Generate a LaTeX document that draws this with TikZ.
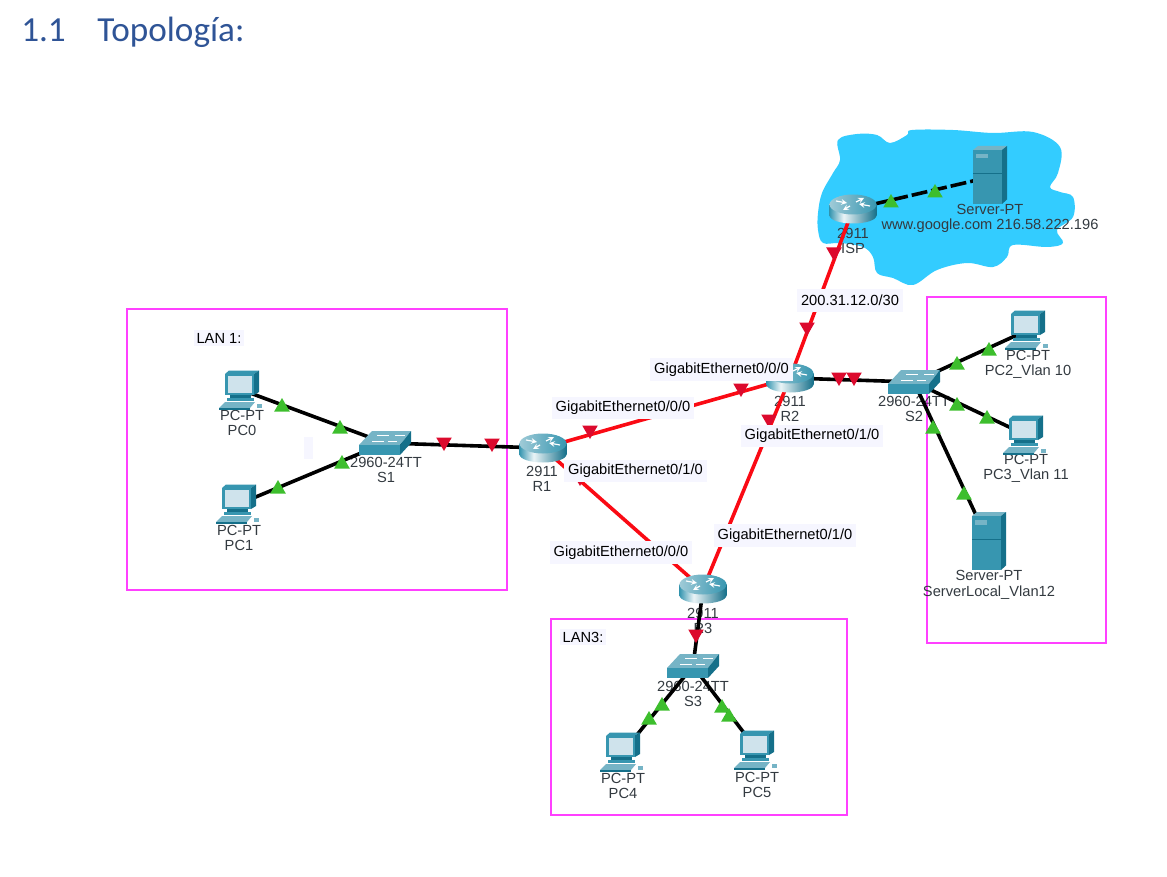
\documentclass[tikz,border=0pt]{standalone}
\usepackage{fontspec}
\setmainfont{Liberation Sans}
\newfontfamily\titlefont{Carlito}
\usetikzlibrary{shapes.geometric}
\definecolor{headblue}{HTML}{2F5496}
\definecolor{cloudblue}{HTML}{33CCFF}
\definecolor{lanpink}{HTML}{FF40FF}
\definecolor{linkred}{HTML}{FA0A14}
\definecolor{markred}{HTML}{DC0A2D}
\definecolor{markgreen}{HTML}{3DBE2D}
\definecolor{labpale}{HTML}{F6F6FF}
\definecolor{devmid}{HTML}{3796B0}
\definecolor{devdark}{HTML}{15708A}
\definecolor{devtop}{HTML}{76B4C6}
\definecolor{devscreen}{HTML}{CFE3EC}
\definecolor{devtext}{HTML}{333A40}
\pgfdeclarehorizontalshading{rtbody}{100bp}{color(0bp)=(devmid); color(25bp)=(devmid); color(40bp)=(white!90!devmid); color(75bp)=(devdark); color(100bp)=(devdark)}
\tikzset{
  dev/.style={inner sep=0pt,minimum size=0pt},
  devlab/.style={align=center,font=\fontsize{11}{11.3}\selectfont,text=devtext,inner sep=0pt,yshift=-0.6pt},
  headlab/.style={anchor=base west,font=\titlefont\fontsize{26.4}{30}\selectfont,text=headblue,inner sep=0pt},
  iflab/.style={fill=labpale,font=\fontsize{11}{13}\selectfont,inner sep=0pt,minimum height=17pt,minimum width=107pt},
  lanlab/.style={fill=labpale,font=\fontsize{11}{13}\selectfont,inner sep=2pt},
  lanbox/.style={draw=lanpink,line width=0.85pt},
  cable/.style={black,line width=2.7pt},
  redcable/.style={linkred,line width=2.7pt},
  upm/.style={regular polygon,regular polygon sides=3,fill=markgreen,inner sep=0pt,minimum size=13.5pt,yshift=-1.5pt},
  dnm/.style={regular polygon,regular polygon sides=3,shape border rotate=180,fill=markred,inner sep=0pt,minimum size=13.5pt,yshift=1.5pt},
  pcicon/.pic={
    \fill[devmid] (-17,-16)--(-13,-19.5)--(17,-19.5)--(12,-16)--cycle;
    \fill[devdark] (12,-16)--(17,-19.5)--(17,2)--(12,5)--cycle;
    \fill[devmid] (-17,-16) rectangle (12,5);
    \fill[devscreen] (-14.5,-14) rectangle (10,3);
    \fill[devdark] (-12,5) rectangle (9,8);
    \fill[devmid] (-15,8) rectangle (12,11);
    \fill[devtop] (-23,18)--(-17,12)--(13,12)--(8,18)--cycle;
    \fill[devdark] (-23,18) rectangle (8,19.5);
    \fill[devtop] (15,14) rectangle (20,18);
  },
  serverpt/.pic={
    \fill[devtop] (-17,-27)--(-12,-31)--(17,-31)--(12,-27)--cycle;
    \fill[devdark] (12,-27)--(17,-31)--(17,22.5)--(12,27)--cycle;
    \fill[devmid] (-17,-27) rectangle (12,27);
    \fill[devtop] (-14.5,-23) rectangle (-2,-18.5);
    \draw[devdark,line width=0.3pt] (-17,-4)--(12,-4);
  },
  swicon/.pic={
    \fill[devtop] (-26,2)--(-13,-12)--(26,-12)--(15,2)--cycle;
    \fill[devmid] (-26,2) rectangle (15,12);
    \fill[devdark] (15,2)--(26,-12)--(26,0)--(15,12)--cycle;
    \draw[white,line width=0.4pt] (-13,-2)--(-1,-2) (-8,-8)--(4,-8) (3,-2)--(12,-2) (10,-8)--(20,-8);
  },
  rticon/.pic={
    \shade[shading=rtbody] (-23.5,-4.5) rectangle (23.5,6.5);
    \shade[shading=rtbody] (0,6.5) ellipse [x radius=23.5,y radius=8];
    \shade[left color=devtop!70!white,right color=devmid] (0,-4.5) ellipse [x radius=23.5,y radius=10];
    \draw[white,line width=0.9pt,-stealth] (-17,-8)--(-6,-6);
    \draw[white,line width=0.9pt,-stealth] (17,-3)--(6,-5);
    \draw[white,line width=0.9pt,-stealth] (3,-7)--(11,-11);
    \draw[white,line width=0.9pt,-stealth] (-3,-3)--(-10,1);
  }
}
\begin{document}
\begin{tikzpicture}[x=0.75pt,y=-0.75pt]
  \useasboundingbox (0,0) rectangle (1167,877);
  \node[headlab] (secnum) at (21,42) {1.1};
  \node[headlab] (sectitle) at (97,42) {Topología:};
  \fill[cloudblue] plot[smooth cycle,tension=0.6] coordinates {(838,140) (857,134) (877,135) (890,143) (907,135) (912,130) (953,130) (993,133) (1033,132) (1060,147) (1058,173) (1050,187) (1060,192) (1073,197) (1073,217) (1057,230) (1063,243) (1047,247) (1013,245) (1007,257) (993,267) (967,263) (937,270) (913,285) (893,278) (877,273) (873,257) (863,247) (840,243) (823,243) (818,230) (818,213) (822,193) (833,173) (840,160)};
  \draw[lanbox] (127,309) rectangle (507,590);
  \draw[lanbox] (927,297) rectangle (1106,643);
  \draw[lanbox] (551,619) rectangle (847,815);
  \fill[labpale] (304,437) rectangle (313,459);
  \node[lanlab] (lan1) at (219,338) {LAN 1:};
  \node[lanlab] (lan3) at (583,637) {LAN3:};
  \node[devlab] (pc0t) at (242,422) {PC-PT\\PC0};
  \node[devlab] (pc1t) at (239,537) {PC-PT\\PC1};
  \node[devlab] (s1t) at (386,469) {2960-24TT\\S1};
  \node[devlab] (r1t) at (542,478) {2911\\R1};
  \node[devlab] (ispt) at (853,240) {2911\\ISP};
  \node[devlab] (webt) at (990,218) {Server-PT\\www.google.com 216.58.222.196};
  \node[devlab] (pc2t) at (1028,364) {PC-PT\\PC2\_Vlan 10};
  \node[devlab] (s2t) at (914,408) {2960-24TT\\S2};
  \node[devlab] (r2t) at (790,408) {2911\\R2};
  \node[devlab] (pc3t) at (1026,468) {PC-PT\\PC3\_Vlan 11};
  \node[devlab] (loct) at (989,584) {Server-PT\\ServerLocal\_Vlan12};
  \node[devlab] (r3t) at (703,620) {2911\\R3};
  \node[devlab] (s3t) at (693,693) {2960-24TT\\S3};
  \node[devlab] (pc4t) at (623,785) {PC-PT\\PC4};
  \node[devlab] (pc5t) at (757,784) {PC-PT\\PC5};
  \node[dev] (pc0) at (242,390) {};
  \node[dev] (pc1) at (239,504) {};
  \node[dev] (s1) at (385,443) {};
  \node[dev] (r1) at (543,448) {};
  \node[dev] (r2) at (790,378) {};
  \node[dev] (r3) at (703,589) {};
  \node[dev] (isp) at (853,209) {};
  \node[dev] (web) at (990,177) {};
  \node[dev] (s2) at (914,382) {};
  \node[dev] (s3) at (693,666) {};
  \node[dev] (pc2) at (1028,330) {};
  \node[dev] (pc3) at (1026,435) {};
  \node[dev] (loc) at (989,543) {};
  \node[dev] (pc4) at (623,752) {};
  \node[dev] (pc5) at (757,750) {};
  \draw[cable] (pc0)--(s1);
  \draw[cable] (pc1)--(s1);
  \draw[cable] (s1)--(r1);
  \draw[cable] (r2)--(s2);
  \draw[cable] (s2)--(pc2);
  \draw[cable] (s2)--(pc3);
  \draw[cable] (s2)--(loc);
  \draw[cable] (r3)--(s3);
  \draw[cable] (s3)--(pc4);
  \draw[cable] (s3)--(pc5);
  \draw[cable,dash pattern=on 12pt off 3pt] (isp)--(web);
  \draw[redcable] (isp)--(r2);
  \draw[redcable] (r1)--(r2);
  \draw[redcable] (r1)--(r3);
  \draw[redcable] (r2)--(r3);
  \pic at (pc0) {pcicon};
  \pic at (pc1) {pcicon};
  \pic at (pc2) {pcicon};
  \pic at (pc3) {pcicon};
  \pic at (pc4) {pcicon};
  \pic at (pc5) {pcicon};
  \pic at (web) {serverpt};
  \pic at (loc) {serverpt};
  \pic at (s1) {swicon};
  \pic at (s2) {swicon};
  \pic at (s3) {swicon};
  \pic at (r1) {rticon};
  \pic at (r2) {rticon};
  \pic at (r3) {rticon};
  \pic at (isp) {rticon};
  \node[upm] (m1) at (282,405) {};
  \node[upm] (m2) at (340,427) {};
  \node[upm] (m3) at (278,487) {};
  \node[upm] (m4) at (342,462) {};
  \node[upm] (m5) at (891,201) {};
  \node[upm] (m6) at (935,191) {};
  \node[upm] (m7) at (957,363) {};
  \node[upm] (m8) at (989,349) {};
  \node[upm] (m9) at (957,404) {};
  \node[upm] (m10) at (987,417) {};
  \node[upm] (m11) at (933,427) {};
  \node[upm] (m12) at (964,493) {};
  \node[upm] (m13) at (662,704) {};
  \node[upm] (m14) at (649,718) {};
  \node[upm] (m15) at (722,706) {};
  \node[upm] (m16) at (729,715) {};
  \node[dnm] (n1) at (444,444) {};
  \node[dnm] (n2) at (492,445) {};
  \node[dnm] (n3) at (590,432) {};
  \node[dnm] (n4) at (741,390) {};
  \node[dnm] (n5) at (839,379) {};
  \node[dnm] (n6) at (854,379) {};
  \node[dnm] (n7) at (834,254) {};
  \node[dnm] (n8) at (807,329) {};
  \node[dnm] (n9) at (769,421) {};
  \node[dnm] (n10) at (696,636) {};
  \node[dnm] (n11) at (580,479) {};
  \node[iflab] (if1) at (721.5,369.5) {GigabitEthernet0/0/0};
  \node[iflab] (if2) at (623,408) {GigabitEthernet0/0/0};
  \node[iflab] (if3) at (635.5,471) {GigabitEthernet0/1/0};
  \node[iflab] (if4) at (812,436) {GigabitEthernet0/1/0};
  \node[iflab] (if5) at (785,535.5) {GigabitEthernet0/1/0};
  \node[iflab] (if6) at (621,552.5) {GigabitEthernet0/0/0};
  \node[iflab,minimum width=79pt] (if7) at (850,300.5) {200.31.12.0/30};
\end{tikzpicture}
\end{document}
